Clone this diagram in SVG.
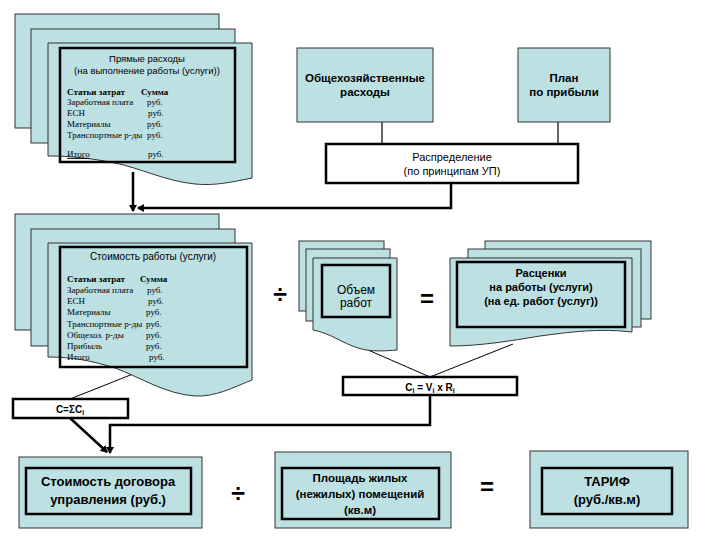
<svg xmlns="http://www.w3.org/2000/svg" width="720" height="540" viewBox="0 0 720 540">
<style>
.pg{fill:#bde0e3;stroke:#333;stroke-width:1}
.in{fill:none;stroke:#000;stroke-width:2.5}
.inf{fill:#bde0e3;stroke:#000;stroke-width:2.5}
.wb{fill:#fff;stroke:#000;stroke-width:2.5}
.s{font-family:"Liberation Sans",Arial,sans-serif;fill:#000}
.b{font-weight:bold}
.t{font-family:"Liberation Serif","Times New Roman",serif;font-size:9px;fill:#000}
.th{font-family:"Liberation Serif","Times New Roman",serif;font-size:9px;font-weight:bold;fill:#000}
.thin{stroke:#000;stroke-width:1;fill:none}
.thick{stroke:#000;stroke-width:2.5;fill:none}
</style>
<defs>
<marker id="ah" markerWidth="8" markerHeight="8" refX="6" refY="4" orient="auto" markerUnits="userSpaceOnUse">
<path d="M0,0 L7,4 L0,8 Z" fill="#000"/>
</marker>
</defs>

<g id="connectors">
<line class="thick" x1="133" y1="172" x2="133" y2="211" marker-end="url(#ah)"/>
<polyline class="thick" points="451,183 451,208 138,208" marker-end="url(#ah)"/>
<line class="thick" x1="382" y1="122" x2="382" y2="144" style="stroke-width:1.2"/>
<line class="thick" x1="558" y1="122" x2="558" y2="144" style="stroke-width:1.2"/>
<line class="thin" x1="133" y1="374" x2="70" y2="399"/>
<line class="thin" x1="352" y1="343" x2="430" y2="377"/>
<line class="thin" x1="513" y1="344" x2="430" y2="377"/>
<polyline class="thick" points="430,395 430,425 110,425 110,453" marker-end="url(#ah)"/>
<line class="thick" x1="70" y1="418" x2="107" y2="452" marker-end="url(#ah)"/>
</g>

<g id="direct-costs">
<rect class="pg" x="15" y="14" width="204" height="114"/>
<rect class="pg" x="31" y="29" width="204" height="114"/>
<path class="pg" d="M48,43 H252 V178 C232,182 215,186 195,184 C165,181 140,168 115,163 C90,158 70,156 48,156 Z"/>
<rect class="in" x="60" y="48" width="175" height="114"/>
<text class="s" x="147" y="62" font-size="9.5" text-anchor="middle">Прямые расходы</text>
<text class="s" x="147" y="74" font-size="9.5" text-anchor="middle">(на выполнение работы (услуги))</text>
<text class="th" x="67" y="95">Статьи затрат</text><text class="th" x="141" y="95">Сумма</text>
<text class="t" x="67" y="105">Заработная плата</text><text class="t" x="147" y="105">руб.</text>
<text class="t" x="67" y="116">ЕСН</text><text class="t" x="148" y="116">руб.</text>
<text class="t" x="67" y="127">Материалы</text><text class="t" x="147" y="127">руб.</text>
<text class="t" x="67" y="138">Транспортные р-ды</text><text class="t" x="147" y="138">руб.</text>
<text class="t" x="67" y="157" text-decoration="underline">Итого</text><text class="t" x="148" y="157">руб.</text>
</g>

<g id="overhead">
<rect class="pg" x="297" y="48" width="136" height="74"/>
<text class="s b" x="365" y="82" font-size="11.5" text-anchor="middle">Общехозяйственные</text>
<text class="s b" x="365" y="96" font-size="11.5" text-anchor="middle">расходы</text>
</g>

<g id="profit-plan">
<rect class="pg" x="518" y="48" width="92" height="74"/>
<text class="s b" x="564" y="82" font-size="11.5" text-anchor="middle">План</text>
<text class="s b" x="564" y="96" font-size="11.5" text-anchor="middle">по прибыли</text>
</g>

<g id="distribution">
<rect class="wb" x="326" y="144" width="252" height="39"/>
<text class="s" x="452" y="161" font-size="11" text-anchor="middle">Распределение</text>
<text class="s" x="452" y="175" font-size="11" text-anchor="middle">(по принципам УП)</text>
</g>

<g id="work-cost">
<rect class="pg" x="15" y="214" width="204" height="116"/>
<rect class="pg" x="31" y="229" width="204" height="117"/>
<path class="pg" d="M48,243 H252 V380 C232,388 215,397 195,396 C165,394 140,377 115,368 C90,360 70,357 48,357 Z"/>
<rect class="in" x="60" y="247" width="187" height="120"/>
<text class="s" x="153" y="260" font-size="10" text-anchor="middle">Стоимость работы (услуги)</text>
<text class="th" x="67" y="282">Статьи затрат</text><text class="th" x="140" y="282">Сумма</text>
<text class="t" x="67" y="293">Заработная плата</text><text class="t" x="147" y="293">руб.</text>
<text class="t" x="67" y="304">ЕСН</text><text class="t" x="148" y="304">руб.</text>
<text class="t" x="67" y="315">Материалы</text><text class="t" x="146" y="315">руб.</text>
<text class="t" x="67" y="327">Транспортные р-ды</text><text class="t" x="146" y="327">руб.</text>
<text class="t" x="67" y="338">Общехоз. р-ды</text><text class="t" x="146" y="338">руб.</text>
<text class="t" x="67" y="349">Прибыль</text><text class="t" x="146" y="349">руб.</text>
<text class="t" x="67" y="360">Итого</text><text class="t" x="149" y="360">руб.</text>
</g>

<text class="s b" x="280" y="303" font-size="25" text-anchor="middle">÷</text>

<g id="volume">
<rect class="pg" x="299" y="241" width="85" height="70"/>
<rect class="pg" x="306" y="249" width="84" height="72"/>
<path class="pg" d="M313,258 H397 V350 C385,351 370,352 358,348 C342,343 330,333 313,330 Z"/>
<rect class="inf" x="322" y="265" width="68" height="52"/>
<text class="s" x="356" y="294" font-size="12" text-anchor="middle">Объем</text>
<text class="s" x="356" y="307" font-size="12" text-anchor="middle">работ</text>
</g>

<text class="s b" x="427" y="307" font-size="24" text-anchor="middle">=</text>

<g id="rates">
<rect class="pg" x="485" y="241" width="166" height="78"/>
<rect class="pg" x="468" y="249" width="173" height="78"/>
<path class="pg" d="M450,258 H632 V332 C600,328 570,332 540,336 C510,341 480,346 450,346 Z"/>
<rect class="inf" x="457" y="262" width="168" height="65"/>
<text class="s b" x="541" y="277" font-size="11" text-anchor="middle">Расценки</text>
<text class="s b" x="541" y="291" font-size="11" text-anchor="middle">на работы (услуги)</text>
<text class="s b" x="541" y="305" font-size="11" text-anchor="middle">(на ед. работ (услуг))</text>
</g>

<g id="ci-formula">
<rect class="wb" x="343" y="377" width="174" height="18"/>
<text class="s b" x="430" y="391" font-size="10" text-anchor="middle">C<tspan font-size="7" dy="2">i</tspan><tspan dy="-2"> = V</tspan><tspan font-size="7" dy="2">i</tspan><tspan dy="-2"> x R</tspan><tspan font-size="7" dy="2">i</tspan></text>
</g>

<g id="c-sum">
<rect class="wb" x="13" y="399" width="115" height="19"/>
<text class="s b" x="70" y="413" font-size="10" text-anchor="middle">C=ΣC<tspan font-size="7" dy="2">i</tspan></text>
</g>

<g id="contract-cost">
<rect class="pg" x="19" y="457" width="183" height="71"/>
<rect class="in" x="26" y="468" width="165" height="46"/>
<text class="s b" x="108" y="486" font-size="13" text-anchor="middle">Стоимость договора</text>
<text class="s b" x="108" y="504" font-size="13" text-anchor="middle">управления (руб.)</text>
</g>

<text class="s b" x="238" y="502" font-size="25" text-anchor="middle">÷</text>

<g id="area">
<rect class="pg" x="275" y="452" width="176" height="76"/>
<rect class="in" x="282" y="468" width="157" height="51"/>
<text class="s b" x="360" y="482" font-size="11.5" text-anchor="middle">Площадь жилых</text>
<text class="s b" x="360" y="498" font-size="11.5" text-anchor="middle">(нежилых) помещений</text>
<text class="s b" x="360" y="514" font-size="11.5" text-anchor="middle">(кв.м)</text>
</g>

<text class="s b" x="487" y="495" font-size="24" text-anchor="middle">=</text>

<g id="tariff">
<rect class="pg" x="530" y="451" width="158" height="77"/>
<rect class="in" x="542" y="468" width="130" height="46"/>
<text class="s b" x="607" y="486" font-size="13" text-anchor="middle">ТАРИФ</text>
<text class="s b" x="607" y="504" font-size="13" text-anchor="middle">(руб./кв.м)</text>
</g>
</svg>
